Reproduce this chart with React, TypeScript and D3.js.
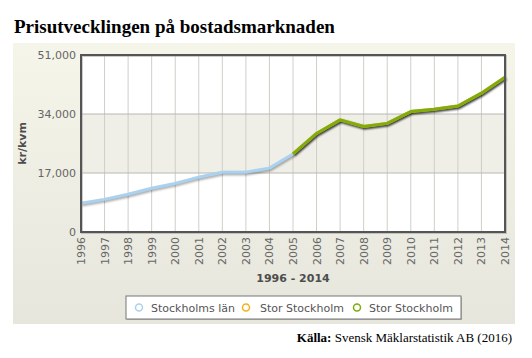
import React from "react";
import * as d3 from "d3";

const years = [1996,1997,1998,1999,2000,2001,2002,2003,2004,2005,2006,2007,2008,2009,2010,2011,2012,2013,2014];
const lanValues = [8300,9400,10900,12600,14000,15800,17200,17200,18400,22500];
const storValues = [22500,28400,32300,30400,31300,34700,35400,36300,40000,44600];
const lanYears = years.slice(0, 10);
const storYears = years.slice(9);
const yTicks = [0,17000,34000,51000];
const legendItems = [
  { label: "Stockholms län", color: "#a9d1f0" },
  { label: "Stor Stockholm", color: "#f5b21a" },
  { label: "Stor Stockholm", color: "#7fad0a" },
];

const W = 532, H = 358;
const PL = 81, PR = 505, PT = 55, PB = 232;

export default function App() {
  const x = d3.scaleLinear().domain([1996, 2014]).range([PL, PR]);
  const y = d3.scaleLinear().domain([0, 51000]).range([PB, PT]);
  const line = d3.line<[number, number]>().x(d => x(d[0])).y(d => y(d[1]));
  const lanPath = line(lanYears.map((yr, i) => [yr, lanValues[i]]))!;
  const storPath = line(storYears.map((yr, i) => [yr, storValues[i]]))!;
  const font = "'DejaVu Sans', Verdana, sans-serif";
  const legendX = [139, 246, 357];
  const legendTX = [151, 260, 369];
  return (
    <svg width={W} height={H} style={{ position: "absolute", left: 0, top: 0 }}>
      <defs>
        <linearGradient id="bg" x1="0" y1="0" x2="0" y2="1">
          <stop offset="0" stopColor="#f5f5ea" />
          <stop offset="1" stopColor="#e6e6dc" />
        </linearGradient>
        <filter id="blur" x="-5%" y="-20%" width="110%" height="140%">
          <feGaussianBlur stdDeviation="0.8" />
        </filter>
      </defs>
      <rect width={W} height={H} fill="#fff" />
      <text x={14} y={33} fontFamily="'Liberation Serif', 'Times New Roman', serif" fontWeight="bold" fontSize={19} fill="#000">
        Prisutvecklingen på bostadsmarknaden
      </text>
      <rect x={13} y={43} width={502} height={281} fill="url(#bg)" />
      {/* plot area */}
      <rect x={PL} y={PT} width={PR - PL} height={PB - PT} fill="#fff" />
      <rect x={PL} y={y(34000)} width={PR - PL} height={y(17000) - y(34000)} fill="#efefe7" />
      {years.map(yr => (
        <line key={yr} x1={x(yr)} x2={x(yr)} y1={PT} y2={PB} stroke="#cfcfc8" strokeWidth={1} />
      ))}
      {yTicks.map(t => (
        <line key={t} x1={PL} x2={PR} y1={y(t)} y2={y(t)} stroke="#b8b8b0" strokeWidth={1} />
      ))}
      {/* shadows */}
      <g transform="translate(1,1.5)" filter="url(#blur)">
        <path d={lanPath} fill="none" stroke="#000" strokeOpacity={0.35} strokeWidth={3} />
        <path d={storPath} fill="none" stroke="#000" strokeOpacity={0.85} strokeWidth={3} />
      </g>
      <path d={lanPath} fill="none" stroke="#a9d1f0" strokeWidth={3} strokeLinejoin="round" />
      <path d={storPath} fill="none" stroke="#f5b21a" strokeWidth={3} strokeLinejoin="round" />
      <path d={storPath} fill="none" stroke="#7fad0a" strokeWidth={3} strokeLinejoin="round" />
      {/* border */}
      <rect x={PL + 1} y={PT + 1} width={PR - PL} height={PB - PT} fill="none" stroke="#999" strokeOpacity={0.5} strokeWidth={2} />
      <rect x={PL} y={PT} width={PR - PL} height={PB - PT} fill="none" stroke="#555" strokeWidth={2} />
      {/* y labels */}
      {yTicks.map(t => (
        <text key={t} x={76} y={y(t) + 4} textAnchor="end" fontFamily={font} fontSize={11} fill="#666">
          {d3.format(",")(t)}
        </text>
      ))}
      <text transform={`translate(26,${(PT + PB) / 2}) rotate(-90)`} textAnchor="middle" fontFamily={font} fontWeight="bold" fontSize={11} fill="#4d4d4d">
        kr/kvm
      </text>
      {/* x labels */}
      {years.map(yr => (
        <text key={yr} transform={`translate(${x(yr) + 4},237) rotate(-90)`} textAnchor="end" fontFamily={font} fontSize={11} fill="#666">
          {yr}
        </text>
      ))}
      <text x={293} y={282} textAnchor="middle" fontFamily={font} fontWeight="bold" fontSize={11} fill="#4d4d4d">
        1996 - 2014
      </text>
      {/* legend */}
      <rect x={127} y={297} width={335} height={23} fill="#888" opacity={0.5} />
      <rect x={126} y={296} width={335} height={23} fill="#fff" stroke="#777" strokeWidth={1} />
      {legendItems.map((it, i) => (
        <g key={i}>
          <circle cx={legendX[i]} cy={307.5} r={3.5} fill="#fff" stroke={it.color} strokeWidth={1.5} />
          <text x={legendTX[i]} y={311.5} fontFamily={font} fontSize={11} fill="#555">{it.label}</text>
        </g>
      ))}
      <text x={512} y={342} textAnchor="end" fontFamily="'Liberation Serif', 'Times New Roman', serif" fontSize={13} fill="#000">
        <tspan fontWeight="bold">Källa:</tspan> Svensk Mäklarstatistik AB (2016)
      </text>
    </svg>
  );
}
